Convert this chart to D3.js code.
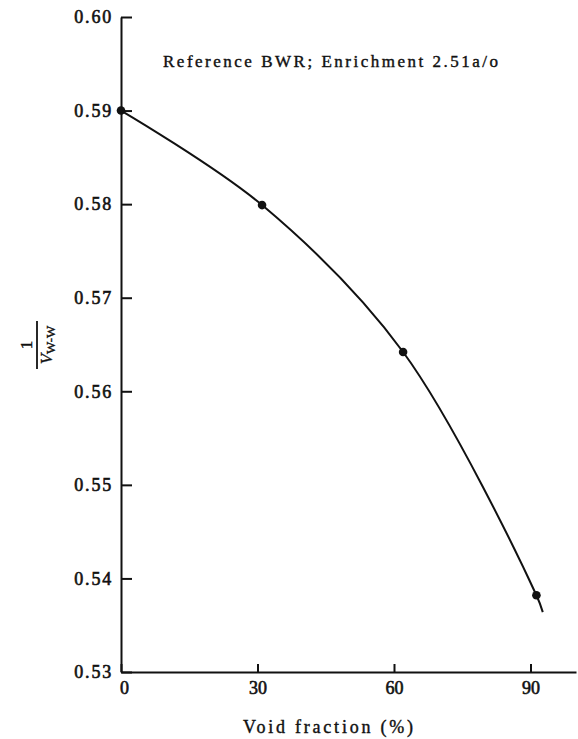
<!DOCTYPE html>
<html>
<head>
<meta charset="utf-8">
<script src="https://cdn.jsdelivr.net/npm/d3@7"></script>
<style>
  html, body { margin: 0; padding: 0; background: #fff; }
  svg { display: block; }
  text { font-family: "Liberation Serif", "DejaVu Serif", serif; fill: #111; stroke: #111; stroke-width: 0.4px; }
  .tick text { stroke-width: 0.6px; }
</style>
</head>
<body>
<svg id="chart" width="578" height="739"></svg>
<script>
// Void fraction (%) and measured 1/V ratio
const voidFraction = [0, 31, 62, 91.3];
const ratio = [0.590, 0.5799, 0.5642, 0.5382];
// fitted curve carries on a little past the last measurement
const curveX = [0, 31, 62, 91.3, 92.7];
const curveY = [0.590, 0.5799, 0.5642, 0.5382, 0.5364];
const yTicks = [0.53, 0.54, 0.55, 0.56, 0.57, 0.58, 0.59, 0.60];
const xTicks = [0, 30, 60, 90];
const title = "Reference BWR; Enrichment 2.51a/o";
const xTitle = "Void fraction (%)";

const svg = d3.select("#chart");
const x = d3.scaleLinear().domain([0, 100]).range([121, 576]);
const y = d3.scaleLinear().domain([0.53, 0.60]).range([672, 17]);

// y axis: ticks point into the plot
const yAxis = svg.append("g")
  .attr("transform", `translate(${x(0)},0)`)
  .call(d3.axisLeft(y).tickValues(yTicks).tickSizeInner(-11).tickSizeOuter(0)
    .tickPadding(8).tickFormat(d3.format(".2f")));
yAxis.select(".domain").attr("stroke", "#111").attr("stroke-width", 2);
yAxis.selectAll(".tick line").attr("stroke", "#111").attr("stroke-width", 2);
yAxis.selectAll(".tick text")
  .attr("font-size", 18).attr("letter-spacing", 1.8)
  .attr("font-family", "Liberation Serif, serif").attr("fill", "#111");

// x axis: ticks point up
const xAxis = svg.append("g")
  .attr("transform", `translate(0,${y(0.53)})`)
  .call(d3.axisBottom(x).tickValues(xTicks).tickSizeInner(-8).tickSizeOuter(0)
    .tickPadding(9).tickFormat(d3.format("d")));
xAxis.select(".domain").attr("stroke", "#111").attr("stroke-width", 2);
xAxis.selectAll(".tick line").attr("stroke", "#111").attr("stroke-width", 2);
xAxis.selectAll(".tick text")
  .attr("font-size", 18)
  .attr("font-family", "Liberation Serif, serif").attr("fill", "#111")
  .attr("dx", d => d === 0 ? 3 : 0);

// fitted curve
const pts = curveX.map((v, i) => [v, curveY[i]]);
svg.append("path")
  .datum(pts)
  .attr("fill", "none")
  .attr("stroke", "#111")
  .attr("stroke-width", 2)
  .attr("d", d3.line().x(d => x(d[0])).y(d => y(d[1])).curve(d3.curveCatmullRom.alpha(0.5)));

// measured points
svg.append("g").selectAll("circle")
  .data(voidFraction.map((v, i) => [v, ratio[i]]))
  .join("circle")
  .attr("cx", d => x(d[0]))
  .attr("cy", d => y(d[1]))
  .attr("r", 4.3)
  .attr("fill", "#111");

// in-plot caption
svg.append("text")
  .attr("x", 163).attr("y", 67)
  .attr("font-size", 17)
  .attr("textLength", 335).attr("lengthAdjust", "spacing")
  .text(title);

// x title
svg.append("text")
  .attr("x", 243).attr("y", 733)
  .attr("font-size", 18)
  .attr("textLength", 170).attr("lengthAdjust", "spacing")
  .text(xTitle);

// y title: 1 over V with W-W subscript, rotated
const yl = svg.append("g").attr("transform", "translate(40,345) rotate(-90)");
yl.append("text")
  .attr("x", 0).attr("y", -8).attr("text-anchor", "middle")
  .attr("font-size", 17).text("1");
yl.append("line")
  .attr("x1", -24).attr("x2", 24).attr("y1", -3).attr("y2", -3)
  .attr("stroke", "#111").attr("stroke-width", 1.8);
const den = yl.append("text")
  .attr("x", 0).attr("y", 12).attr("text-anchor", "middle")
  .attr("font-size", 17);
den.append("tspan").attr("font-style", "italic").text("V");
den.append("tspan").attr("font-size", 13).attr("dy", 3).text("W-W");
</script>
</body>
</html>
